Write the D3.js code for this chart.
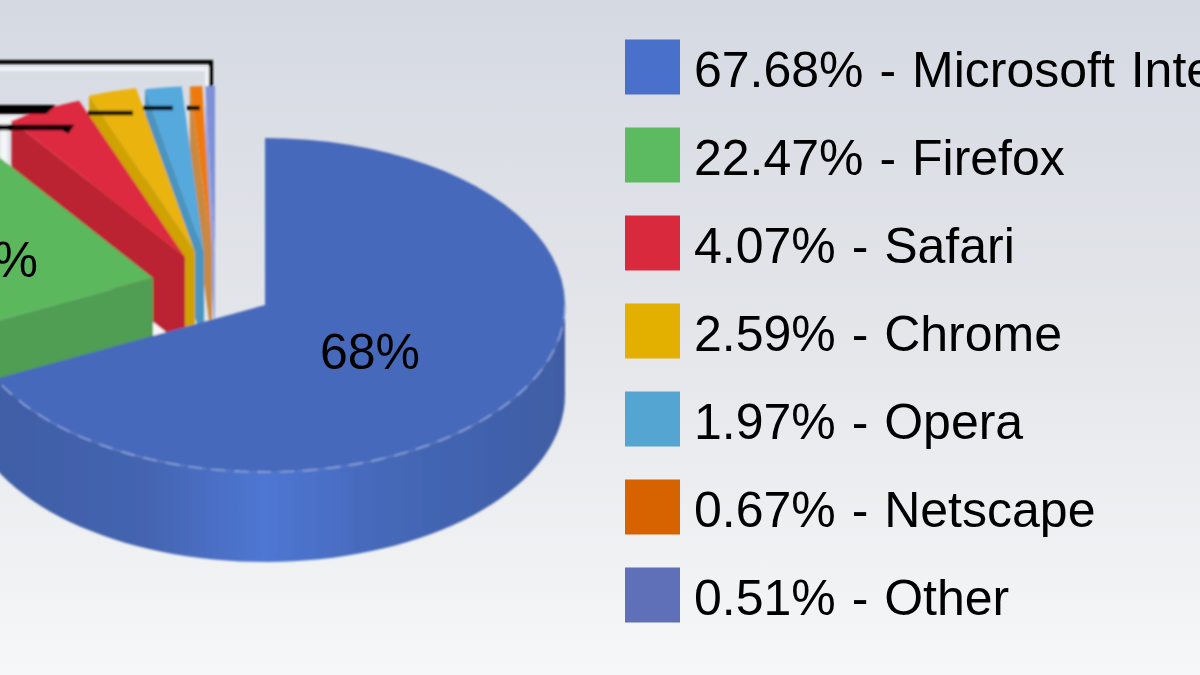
<!DOCTYPE html>
<html><head><meta charset="utf-8">
<script src="https://cdnjs.cloudflare.com/ajax/libs/d3/7.8.5/d3.min.js"></script>
<style>html,body{margin:0;padding:0;overflow:hidden}svg{display:block}</style>
</head><body>
<svg id="c" width="1200" height="675" viewBox="0 0 1200 675"></svg>
<script>
const browsers = ["Microsoft Internet Explorer","Firefox","Safari","Chrome","Opera","Netscape","Other"];
const shares = [67.68,22.47,4.07,2.59,1.97,0.67,0.51];
const sliceLabels = ["68%","22%",null,null,null,null,null];
const topColors = ["#4669bb","#5bb85d","#dd2c40","#eab308","#55a9dc","#ee7a10","#7f90d8"];
const wallColors = ["#4464b0","#509e52","#bb2433","#d0a200","#4a94c0","#c9893f","#98a6dc"];
const swatchColors = ["#4a6fca","#5bbb60","#d92b3e","#e3b000","#55a5d3","#d66400","#5f6fb8"];

const W = 1200, H = 675, cx = 265, cy = 305, rx = 300, ry = 167, depth = 90;
// per-slice displacement of the exploded pie
const explodeDx = [0,-112,-80,-70,-61,-53,-50];
const explodeDy = [0,-27,-48,-53,-52,-52,-52];

const svg = d3.select("#c");
const defs = svg.append("defs");
const bg = defs.append("linearGradient").attr("id","bg").attr("x1",0).attr("y1",0).attr("x2",0).attr("y2",1);
bg.append("stop").attr("offset",0).attr("stop-color","#d5d9e2");
bg.append("stop").attr("offset",0.5).attr("stop-color","#e4e6ea");
bg.append("stop").attr("offset",1).attr("stop-color","#f6f7f8");
const rim = defs.append("linearGradient").attr("id","rim").attr("gradientUnits","userSpaceOnUse")
  .attr("x1",cx-rx).attr("x2",cx+rx).attr("y1",0).attr("y2",0);
[[0,"#3f5da4"],[0.3,"#4464b0"],[0.5,"#4f77d3"],[0.7,"#4568b8"],[1,"#3f5da4"]].forEach(s=>
  rim.append("stop").attr("offset",s[0]).attr("stop-color",s[1]));
const blur = defs.append("filter").attr("id","soft").attr("x","-5%").attr("y","-5%").attr("width","110%").attr("height","110%");
blur.append("feGaussianBlur").attr("stdDeviation",0.8);
const tblur = defs.append("filter").attr("id","tsoft");
tblur.append("feGaussianBlur").attr("stdDeviation",0.6);

svg.append("rect").attr("width",W).attr("height",H).attr("fill","url(#bg)");

const pie = d3.pie().sort(null).value(d=>d);
const arcs = pie(shares);
const sx = d3.scaleLinear().domain([-1,1]).range([-rx,rx]);
const sy = d3.scaleLinear().domain([-1,1]).range([-ry,ry]);
const pt = (a,i,dz=0)=>[cx+explodeDx[i]+sx(Math.sin(a)), cy+explodeDy[i]+sy(-Math.cos(a))+dz];
const apex = (i,dz=0)=>[cx+explodeDx[i], cy+explodeDy[i]+dz];
const line = d3.line();
const arcPts = (a0,a1,i,dz=0)=>d3.range(0,61).map(k=>pt(a0+(a1-a0)*k/60,i,dz));

const art = svg.append("g").attr("filter","url(#soft)");
// frame behind the pie (a cropped callout)
art.append("path").attr("d","M-20,69H207V106").attr("fill","none").attr("stroke","#f2f3f5").attr("stroke-width",4);
art.append("path").attr("d","M-20,62H211V110").attr("fill","none").attr("stroke","#000").attr("stroke-width",4);
art.append("path").attr("d","M-20,120H30M4,120V170").attr("fill","none").attr("stroke","#f4f5f6").attr("stroke-width",7);
art.append("path").attr("d","M153,315L178,335L153,342Z").attr("fill","#f6f7f8");

// back-to-front: small slices first, blue last
const order = [6,5,4,3,2,1,0];
order.forEach(i=>{
  const d = arcs[i], g = art.append("g");
  if(i>0){
    const wallPts = [apex(i),pt(d.startAngle,i),pt(d.startAngle,i,depth),apex(i,depth)];
    g.append("path").attr("d",line(wallPts)+"Z").attr("fill",wallColors[i]);
  } else {
    const vis = arcPts(Math.PI*0.5,d.endAngle,i);
    const low = arcPts(Math.PI*0.5,d.endAngle,i,depth).reverse();
    g.append("path").attr("d",line(vis.concat(low))+"Z").attr("fill","url(#rim)");
  }
  g.append("path").attr("d",line([apex(i)].concat(arcPts(d.startAngle,d.endAngle,i)))+"Z").attr("fill",topColors[i]);
  if(i===0){
    g.append("path").attr("d",line(arcPts(Math.PI*0.5,d.endAngle,i)))
      .attr("fill","none").attr("stroke","#8ea4dc").attr("stroke-width",1.6).attr("stroke-dasharray","14 9");
  }
});
// black leader marks crossing the slices
art.append("path").attr("d","M-20,105H56L46,114H-20Z").attr("fill","#000");
[[88,133,113],[143,173,108],[187,200,108]].forEach(s=>
  art.append("path").attr("d",`M${s[0]},${s[2]}H${s[1]}`).attr("fill","none").attr("stroke","#000").attr("stroke-width",4.4));
art.append("path").attr("d","M-20,126H72L68,132L62,129H-20Z").attr("fill","#000").attr("stroke","#000").attr("stroke-width",2.5);

const texts = svg.append("g").attr("filter","url(#tsoft)").attr("font-family","'Liberation Sans',Arial,sans-serif")
  .attr("font-size",50).attr("word-spacing",2).attr("fill","#050505");
texts.append("text").attr("x",370).attr("y",369).attr("text-anchor","middle").text(sliceLabels[0]);
texts.append("text").attr("x",38).attr("y",277).attr("text-anchor","end").text(sliceLabels[1]);

const legY = d3.scaleBand().domain(browsers).range([23,639]);
const leg = svg.append("g");
browsers.forEach((b,i)=>{
  const y = legY(b)+legY.bandwidth()/2;
  leg.append("rect").attr("x",625).attr("y",y-27.5).attr("width",55).attr("height",55)
    .attr("fill",swatchColors[i]).attr("filter","url(#tsoft)");
  texts.append("text").attr("x",694).attr("y",y+20).text(shares[i].toFixed(2)+"% - "+b);
});
</script>
</body></html>
